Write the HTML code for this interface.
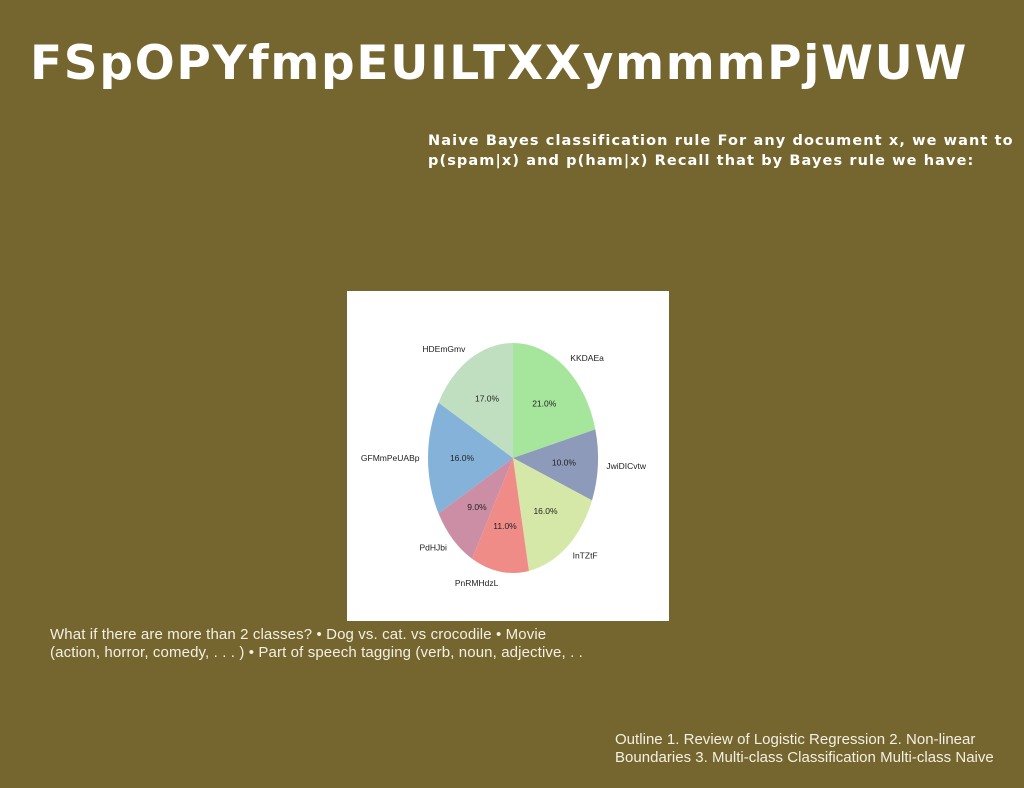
<!DOCTYPE html>
<html><head><meta charset="utf-8"><style>
body{margin:0;width:1024px;height:788px;background:#75652e;position:relative;overflow:hidden;font-family:"Liberation Sans","DejaVu Sans",sans-serif;color:#fff}
.abs{position:absolute;margin:0;white-space:nowrap}
#title{left:30px;top:36px;font-family:"DejaVu Sans",sans-serif;font-weight:bold;font-size:47px;letter-spacing:1.7px}
#heading{left:428px;top:132px;font-family:"DejaVu Sans",sans-serif;font-weight:bold;font-size:14.5px;line-height:19.5px;letter-spacing:1.1px}
#body1{left:50px;top:626px;font-size:15px;line-height:18px;color:#f4f0e4;letter-spacing:0.12px}
#body2{left:615px;top:731px;font-size:15px;line-height:18px;color:#f4f0e4;letter-spacing:0.02px}
#chart{left:347px;top:291px;width:322px;height:330px;background:#fff}
</style></head><body>
<h1 class="abs" id="title">FSpOPYfmpEUILTXXymmmPjWUW</h1>
<div class="abs" id="heading">Naive Bayes classification rule For any document x, we want to<br>p(spam|x) and p(ham|x) Recall that by Bayes rule we have:</div>
<div class="abs" id="chart">
<svg id="svg" width="322" height="330"></svg>
</div>
<div class="abs" id="body1">What if there are more than 2 classes? • Dog vs. cat. vs crocodile • Movie<br>(action, horror, comedy, . . . ) • Part of speech tagging (verb, noun, adjective, . .</div>
<div class="abs" id="body2">Outline 1. Review of Logistic Regression 2. Non-linear<br>Boundaries 3. Multi-class Classification Multi-class Naive</div>
<script>
const labels=["KKDAEa","JwiDICvtw","InTZtF","PnRMHdzL","PdHJbi","GFMmPeUABp","HDEmGmv"];
const values=[21,10,16,11,9,16,17];
const colors=["#a6e69c","#8e9aba","#d6e8a8","#f08c88","#cc8ea4","#84b2d8","#c0dfc0"];
const svg=document.getElementById('svg');
const NS="http://www.w3.org/2000/svg";
const cx=166,cy=167,rx=85,ry=115;
const total=values.reduce((a,b)=>a+b,0);
function pt(a,k){return [cx+rx*k*Math.sin(a),cy-ry*k*Math.cos(a)];}
let start=0;
values.forEach((v,i)=>{
  const sweep=v/total*2*Math.PI,end=start+sweep,mid=start+sweep/2;
  const p1=pt(start,1),p2=pt(end,1);
  const path=document.createElementNS(NS,'path');
  path.setAttribute('d',`M${cx},${cy} L${p1[0]},${p1[1]} A${rx},${ry} 0 ${sweep>Math.PI?1:0} 1 ${p2[0]},${p2[1]} Z`);
  path.setAttribute('fill',colors[i]);
  
  
  svg.appendChild(path);
  const pp=pt(mid,0.6);
  const t=document.createElementNS(NS,'text');
  t.setAttribute('x',pp[0]);t.setAttribute('y',pp[1]+3);
  t.setAttribute('text-anchor','middle');t.setAttribute('font-size','8.5');t.setAttribute('fill','#222');
  t.setAttribute('font-family','Liberation Sans, sans-serif');
  t.textContent=v.toFixed(1)+'%';
  
  
  svg.appendChild(t);
  const lp=pt(mid,1.1);
  const l=document.createElementNS(NS,'text');
  l.setAttribute('x',lp[0]);l.setAttribute('y',lp[1]+3);
  l.setAttribute('text-anchor',Math.sin(mid)>0.05?'start':(Math.sin(mid)<-0.05?'end':'middle'));
  l.setAttribute('font-size','8.5');l.setAttribute('fill','#222');
  l.setAttribute('font-family','Liberation Sans, sans-serif');
  l.textContent=labels[i];
  
  
  svg.appendChild(l);
  start=end;
});
</script>
</body></html>
